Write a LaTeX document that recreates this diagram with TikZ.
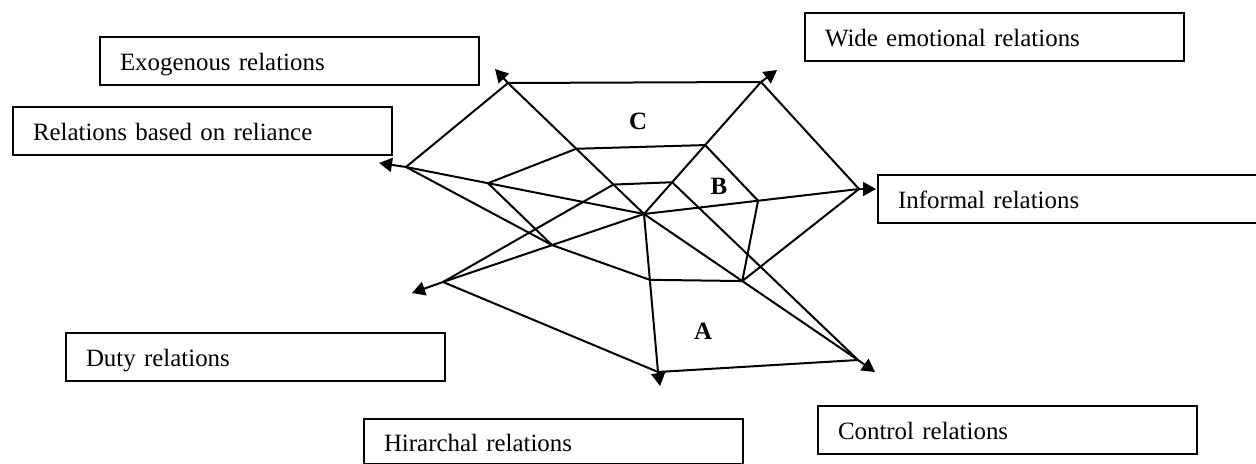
\documentclass[tikz,border=0pt]{standalone}
\usepackage{fontspec}
\setmainfont{Liberation Serif}
\usetikzlibrary{calc,arrows.meta}
\begin{document}
\begin{tikzpicture}[x=0.5pt,y=-0.5pt,
  edge/.style={line width=1pt},
  arr/.style={line width=1pt,-{Triangle[length=6.5pt,width=7pt]}},
  relbox/.style={draw, line width=1pt, anchor=north west, minimum width=189.5pt,
    minimum height=24pt, text width=169.5pt, inner xsep=10pt, inner ysep=0pt,
    align=left, text height=12pt, text depth=2.5pt, font=\fontsize{12.45}{15}\selectfont},
  lab/.style={font=\fontsize{12.45}{15}\selectfont\bfseries, inner sep=0pt}]
\useasboundingbox (0,0) rectangle (1256,464);

% text boxes
\node[relbox] (exo) at (99,36) {Exogenous relations};
\node[relbox] (rel) at (12,106) {Relations based on reliance};
\node[relbox] (wide) at (804,12) {Wide emotional relations};
\node[relbox] (inf) at (877,174) {Informal relations};
\node[relbox] (duty) at (65,332) {Duty relations};
\node[relbox, minimum height=22.5pt] (hir) at (363,418) {Hirarchal relations};
\node[relbox] (ctrl) at (817,405) {Control relations};

% points
\coordinate (O) at (644,214);
\coordinate (P1) at (508,83);
\coordinate (P2) at (761,82);
\coordinate (P3) at (859,189);
\coordinate (P4) at (858,360);
\coordinate (P5) at (658,372);
\coordinate (P6) at (443,282);
\coordinate (P7) at (406,167);

\coordinate (T1) at (495,69);
\coordinate (T2) at (777,70);
\coordinate (T3) at (876,189);
\coordinate (T4) at (875,372);
\coordinate (T5) at (660,386);
\coordinate (T6) at (412,293);
\coordinate (T7) at (379,163);

\coordinate (R1) at ($(O)!(577,148)!(P1)$);
\coordinate (R2) at ($(O)!(705,145)!(P2)$);
\coordinate (R3) at ($(O)!(758,200)!(P3)$);
\coordinate (R4) at ($(O)!(743,280)!(P4)$);
\coordinate (R5) at ($(O)!(648,280)!(P5)$);
\coordinate (R6) at ($(O)!(552,245)!(P6)$);
\coordinate (R7) at ($(O)!(488,183)!(P7)$);
\coordinate (I1) at ($(O)!(613,185)!(P1)$);
\coordinate (I2) at ($(O)!(673,183)!(P2)$);

% outer edges
\draw[edge] (P7) -- (P1) -- (P2) -- (P3);
\draw[edge] (P4) -- (P5) -- (P6);
% spokes
\foreach \p in {P1,P2,P3,P4,P5,P6,P7} \draw[edge] (O) -- (\p);
% middle ring
\draw[edge] (R1) -- (R2) -- (R3) -- (R4) -- (R5) -- (R6) -- (R7) -- cycle;
% inner edge and cross lines
\draw[edge] (I1) -- (I2);
\draw[edge] (I1) -- (P6);
\draw[edge] (I2) -- (P4);
\draw[edge] (P3) -- (R4);
\draw[edge] (P7) -- (R6);
% arrows
\draw[arr] (P1) -- (T1);
\draw[arr] (P2) -- (T2);
\draw[arr] (P3) -- (T3);
\draw[arr] (P4) -- (T4);
\draw[arr] (P5) -- (T5);
\draw[arr] (P6) -- (T6);
\draw[arr] (P7) -- (T7);

% region labels
\node[lab] (A) at (703,331) {A};
\node[lab] (B) at (719,186) {B};
\node[lab] (C) at (638,121) {C};
\end{tikzpicture}
\end{document}
